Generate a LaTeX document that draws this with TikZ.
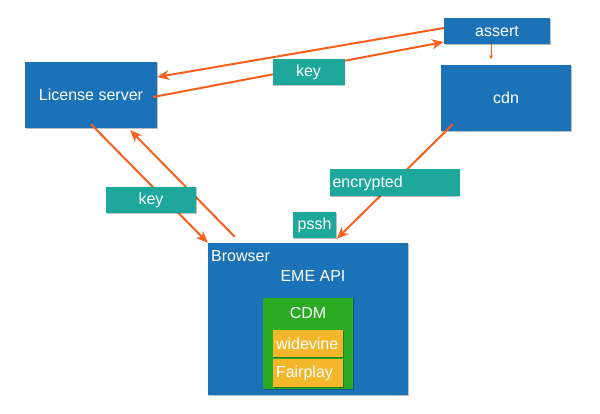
\documentclass[tikz,border=0pt]{standalone}
\usepackage{fontspec}
\setmainfont{Liberation Sans}
\usetikzlibrary{arrows.meta,shadows,calc}
\definecolor{boxblue}{HTML}{1B72B7}
\definecolor{labelteal}{HTML}{1DA89B}
\definecolor{cdmgreen}{HTML}{2BAB24}
\definecolor{drmyellow}{HTML}{F4B72C}
\definecolor{arroworange}{HTML}{F5601E}
\tikzset{
  box/.style={fill=#1, inner sep=0pt, text=white, font=\fontsize{16}{18}\selectfont,
    drop shadow={shadow xshift=0.8pt, shadow yshift=-0.8pt, opacity=0.25, fill=black}},
  lbl/.style={text=white, inner sep=0pt, font=\fontsize{16}{18}\selectfont},
  flow/.style={draw=arroworange, line width=2pt, -{Stealth[length=12pt,width=10pt]}},
  thinflow/.style={draw=arroworange, line width=0.8pt, -{Stealth[length=4pt,width=4pt]}}
}
\begin{document}
\begin{tikzpicture}[x=1pt,y=-1pt]
\useasboundingbox (0,0) rectangle (600,414);
% main boxes
\node[box=boxblue, minimum width=132pt, minimum height=66pt] (ls) at (91,95) {License server};
\node[box=boxblue, minimum width=106pt, minimum height=26pt] (assert) at (497,31) {assert};
\node[box=boxblue, minimum width=130pt, minimum height=66pt] (cdn) at (506,98) {cdn};
\node[box=boxblue, minimum width=200pt, minimum height=152pt] (browser) at (308,319) {};
\node[lbl, anchor=west] (browsertxt) at (211,256) {Browser};
\node[lbl] (eme) at (313,276) {EME API};
\node[box=cdmgreen, minimum width=90pt, minimum height=91pt] (cdm) at (308,343.5) {};
\node[lbl] (cdmtxt) at (308,313) {CDM};
\node[box=drmyellow, minimum width=70pt, minimum height=27pt, text width=64pt, align=left] (widevine) at (308,343.5) {widevine};
\node[box=drmyellow, minimum width=70pt, minimum height=28pt, text width=64pt, align=left] (fairplay) at (308,373) {Fairplay};
% connectors
\draw[flow] ([yshift=3pt]assert.west) -- ([yshift=18pt]ls.east);
\draw[flow] ([xshift=-4pt,yshift=-2pt]ls.east) -- ([yshift=-11pt]assert.west);
\draw[flow] ([yshift=4pt]ls.south) -- (browser.north west);
\draw[flow] ([xshift=27pt,yshift=6pt]browser.north west) -- ([xshift=-27pt,yshift=-2pt]ls.south east);
\draw[flow] ([xshift=12pt,yshift=7pt]cdn.south west) -- ([xshift=129pt,yshift=4pt]browser.north west);
\draw[thinflow] ([xshift=-6pt]assert.south) -- ($(assert.south)+(-6pt,-15pt)$);
% labels on connectors
\node[box=labelteal, minimum width=72pt, minimum height=26pt] (keytop) at (308.5,72) {key};
\node[box=labelteal, minimum width=90pt, minimum height=26pt] (keyleft) at (151,200) {key};
\node[box=labelteal, minimum width=130pt, minimum height=27pt, text width=124pt, align=left] (encrypted) at (394.5,183) {encrypted};
\node[box=labelteal, minimum width=43pt, minimum height=26pt] (pssh) at (314.5,225) {pssh};
\end{tikzpicture}
\end{document}
